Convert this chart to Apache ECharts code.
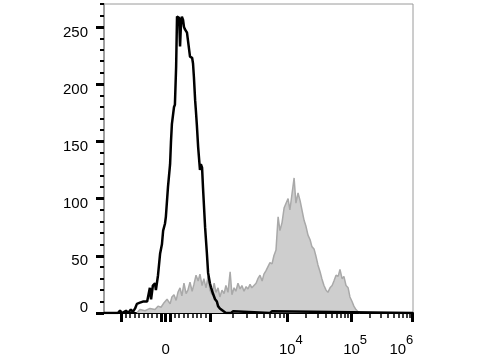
<!DOCTYPE html>
<html><head><meta charset="utf-8">
<script src="https://cdn.jsdelivr.net/npm/echarts@6/dist/echarts.min.js"></script>
<style>html,body{margin:0;padding:0;background:#fff}#c{width:480px;height:360px}</style>
</head><body><div id="c"></div>
<script>
// ---- data (display channel 0..1024, counts) ----
var blackChannels = [0,46,53,60,73,80,89,96,103,109,119,129,143,152,156,162,169,172,179,186,192,196,202,205,209,212,219,222,225,232,235,239,242,245,249,252,255,258,262,265,268,272,275,278,285,292,295,298,302,305,308,312,318,321,325,328,331,335,341,345,351,355,361,368,374,378,384,394,404,421,428,434,550,557,563,1024];
var blackCounts = [0,0,2,0,2,0,3,1,4,8,9,10,10,22,12,24,26,20,33,52,60,72,78,84,85,110,130,150,165,180,182,215,259,260,258,233,252,259,256,250,248,247,245,244,224,223,218,206,186,175,163,145,125,130,127,110,95,75,52,35,26,22,17,12,10,6,4,2,0,0,1.5,0,0,1.5,0,0];
var grayChannels = [109,119,136,152,169,179,189,199,209,219,225,232,239,245,252,258,265,272,278,285,292,298,305,312,318,325,331,338,345,351,358,365,371,378,384,391,398,404,411,418,424,431,437,444,451,457,464,471,477,484,490,497,504,510,517,524,530,537,543,550,557,563,570,577,583,590,597,603,610,616,623,630,636,643,650,656,663,669,676,683,689,696,702,709,716,722,729,736,742,749,756,762,769,776,782,789,795,802,809,815,822,828,835,842,848];
var grayCounts = [0,3,2,4,3,6,5,9,12,8,14,16,11,18,22,15,26,17,20,27,19,25,33,28,34,24,30,22,32,20,16,26,18,22,14,20,17,24,18,36,16,22,19,26,21,24,19,23,21,25,22,24,26,30,33,28,34,37,36,44,43,50,55,84,72,79,92,93,100,90,104,118,96,105,98,90,81,76,68,64,58,56,50,42,36,30,24,20,18,22,24,28,33,32,38,30,32,24,22,14,10,6,3,1,0];
var yMajorTicks = [0,50,100,150,200,250];
var yMinorTicks = [10,20,30,40,60,70,80,90,110,120,130,140,160,170,180,190,210,220,230,240,260,270];
var xMajorValues = [-1000,-100,0,100,1000,1e4,1e5,1e6];
var xLabelValues = [0,1e4,1e5,1e6];
var xLabelExps = [null,4,5,6];
var xMinorValues = [-900,-800,-700,-600,-500,-400,-300,-200,200,300,400,500,600,700,800,900,
  2e3,3e3,4e3,5e3,6e3,7e3,8e3,9e3,2e4,3e4,4e4,5e4,6e4,7e4,8e4,9e4,2e5,3e5,4e5,5e5,6e5,7e5,8e5,9e5];

// ---- biexponential display scale (value -> channel) ----
var CH0 = 204, LIN = 147.5, DEC = {3:351.5, 4:606, 5:819, 6:1022};
function toCh(v){
  if (Math.abs(v) <= 1000) return CH0 + v/1000*LIN;
  var e = Math.floor(Math.log10(v)+1e-9);
  if (e >= 6) return DEC[6];
  return DEC[e] + (DEC[e+1]-DEC[e])*Math.log10(v/Math.pow(10,e));
}
var majorCh = xMajorValues.map(toCh);
var minorCh = xMinorValues.map(toCh);
var labelCh = xLabelValues.map(toCh);

function pairs(xs, ys){ return xs.map(function(x,i){return [x, ys[i]];}); }

var FONT = 'Liberation Sans, Arial, sans-serif';
var chart = echarts.init(document.getElementById('c'));
var G = {left:104, top:4, width:309, height:309, containLabel:false, outerBoundsMode:'none'};
chart.setOption({
  animation:false,
  backgroundColor:'#fff',
  grid:[
    Object.assign({show:true, borderColor:'#9a9a9a', borderWidth:1, backgroundColor:'transparent'}, G),
    Object.assign({show:false}, G)
  ],
  xAxis:[
    {gridIndex:0, type:'value', min:0, max:1024,
     axisLine:{show:true, onZero:false, lineStyle:{color:'#000', width:2}},
     axisTick:{show:true, customValues:majorCh, length:9, lineStyle:{color:'#000', width:3}},
     splitLine:{show:false},
     axisLabel:{show:true, customValues:labelCh, margin:21, color:'#000', fontFamily:FONT, fontSize:15,
       formatter:function(v){
         var i = labelCh.findIndex(function(c){return Math.abs(c-v)<0.5;});
         if (i < 0) return '';
         var e = xLabelExps[i];
         if (e === null) return '{b|' + xLabelValues[i] + '}';
         if (i === xLabelValues.length-1) return '{r|10}{e|' + e + '}';
         return '{p|10}{s|' + e + '}';
       },
       rich:{
         b:{fontFamily:FONT, fontSize:15, color:'#000', lineHeight:32},
         p:{fontFamily:FONT, fontSize:15, color:'#000', lineHeight:32, padding:[0,0,0,8]},
         r:{fontFamily:FONT, fontSize:15, color:'#000', lineHeight:32},
         s:{fontFamily:FONT, fontSize:13, color:'#000', lineHeight:12, padding:[0,0,20,0]},
         e:{fontFamily:FONT, fontSize:13, color:'#000', lineHeight:12, padding:[0,22,20,0]}
       }}
    },
    {gridIndex:1, type:'value', min:0, max:1024,
     axisLine:{show:false},
     axisTick:{show:true, customValues:minorCh, length:5, lineStyle:{color:'#000', width:1.5}},
     axisLabel:{show:false}, splitLine:{show:false}}
  ],
  yAxis:[
    {gridIndex:0, type:'value', min:0, max:270,
     axisLine:{show:true, onZero:false, lineStyle:{color:'#a0a0a0', width:2}},
     axisTick:{show:true, customValues:yMajorTicks, length:8, lineStyle:{color:'#000', width:3}},
     splitLine:{show:false},
     axisLabel:{show:true, customValues:yMajorTicks, margin:16, color:'#000', fontFamily:FONT, fontSize:15,
       formatter:function(v){ return v === 0 ? '{z|0}' : '{n|' + v + '}'; },
       rich:{
         n:{fontFamily:FONT, fontSize:15, color:'#000', padding:[11,0,0,0]},
         z:{fontFamily:FONT, fontSize:15, color:'#000', padding:[0,0,10,0]}
       }}
    },
    {gridIndex:1, type:'value', min:0, max:270,
     axisLine:{show:false},
     axisTick:{show:true, customValues:yMinorTicks, length:4, lineStyle:{color:'#000', width:2}},
     axisLabel:{show:false}, splitLine:{show:false}}
  ],
  series:[
    {type:'line', xAxisIndex:0, yAxisIndex:0, data:pairs(grayChannels, grayCounts),
     showSymbol:false, symbol:'none', z:2,
     lineStyle:{color:'#a9a9a9', width:1.5},
     areaStyle:{color:'#cecece', opacity:1}},
    {type:'line', xAxisIndex:0, yAxisIndex:0, data:pairs(blackChannels, blackCounts),
     showSymbol:false, symbol:'none', z:3,
     lineStyle:{color:'#000', width:2.5}}
  ]
});
</script>
</body></html>
